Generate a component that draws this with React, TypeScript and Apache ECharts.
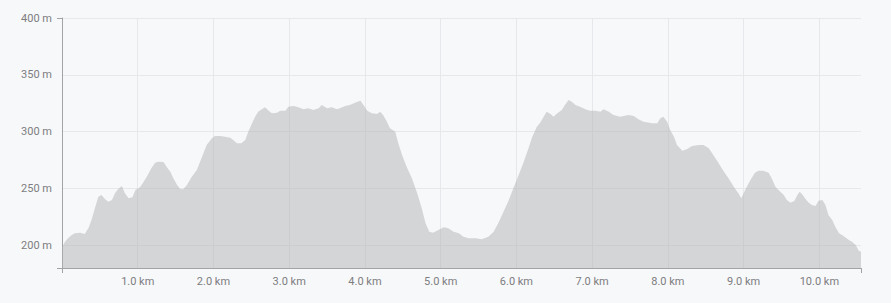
import React, { useEffect, useRef } from "react";
import * as echarts from "echarts";

// Distance along the route (km)
const distanceKm = [
  0.0, 0.04, 0.08, 0.13, 0.17, 0.24, 0.3, 0.35, 0.39, 0.44, 0.48, 0.52, 0.57, 0.61, 0.66, 0.7, 0.74, 0.79,
  0.83, 0.88, 0.93, 0.97, 1.03, 1.07, 1.12, 1.18, 1.23, 1.27, 1.34, 1.38, 1.43, 1.47, 1.52, 1.56, 1.6, 1.65,
  1.71, 1.78, 1.85, 1.91, 1.98, 2.02, 2.09, 2.15, 2.22, 2.26, 2.31, 2.37, 2.42, 2.46, 2.51, 2.55, 2.59, 2.64,
  2.68, 2.73, 2.77, 2.84, 2.88, 2.95, 2.99, 3.06, 3.12, 3.19, 3.25, 3.32, 3.39, 3.43, 3.5, 3.56, 3.63, 3.67,
  3.74, 3.8, 3.87, 3.94, 3.98, 4.03, 4.09, 4.16, 4.2, 4.24, 4.29, 4.33, 4.4, 4.44, 4.49, 4.55, 4.62, 4.69,
  4.75, 4.8, 4.85, 4.9, 4.97, 5.04, 5.1, 5.17, 5.24, 5.3, 5.37, 5.46, 5.54, 5.63, 5.7, 5.76, 5.83, 5.9,
  5.96, 6.03, 6.09, 6.16, 6.21, 6.27, 6.31, 6.36, 6.4, 6.45, 6.49, 6.54, 6.6, 6.64, 6.69, 6.73, 6.78, 6.84,
  6.91, 6.97, 7.04, 7.11, 7.15, 7.22, 7.28, 7.37, 7.48, 7.55, 7.61, 7.68, 7.79, 7.86, 7.9, 7.94, 7.99, 8.03,
  8.08, 8.12, 8.19, 8.25, 8.32, 8.41, 8.47, 8.54, 8.6, 8.67, 8.74, 8.8, 8.87, 8.93, 8.97, 9.02, 9.09, 9.15,
  9.2, 9.26, 9.33, 9.37, 9.42, 9.46, 9.53, 9.57, 9.62, 9.67, 9.71, 9.74, 9.77, 9.82, 9.86, 9.9, 9.95, 9.99,
  10.04, 10.08, 10.12, 10.17, 10.21, 10.26, 10.3, 10.34, 10.39, 10.43, 10.48, 10.52, 10.55,
];

// Elevation (m)
const elevationM = [
  198.2, 203.1, 206.1, 209.0, 210.5, 211.1, 209.9, 215.2, 222.2, 233.9, 242.7, 244.2, 240.5, 238.3, 239.8,
  245.7, 249.3, 252.2, 245.7, 241.3, 242.2, 248.6, 251.0, 255.1, 260.3, 267.7, 272.7, 273.5, 273.3, 269.1,
  264.7, 258.9, 253.0, 249.5, 249.3, 253.0, 259.8, 266.2, 277.9, 288.2, 294.1, 296.2, 296.2, 295.5, 294.7,
  292.6, 289.7, 289.7, 292.6, 299.9, 307.3, 313.1, 317.5, 319.7, 321.4, 318.4, 316.1, 316.7, 318.4, 318.4,
  321.9, 322.6, 321.4, 319.7, 320.5, 319.0, 320.5, 323.4, 320.5, 321.4, 319.7, 320.5, 322.6, 323.4, 325.5,
  327.2, 323.4, 318.4, 316.1, 315.5, 317.5, 314.6, 308.7, 302.9, 299.9, 289.7, 279.4, 269.1, 258.9, 245.7,
  232.5, 219.3, 211.9, 211.1, 213.4, 215.8, 214.9, 211.9, 210.5, 207.5, 206.1, 206.1, 205.3, 207.5, 211.9,
  219.3, 229.5, 239.8, 250.1, 261.8, 272.1, 285.3, 295.5, 304.3, 307.3, 313.1, 317.5, 315.5, 313.1, 316.1,
  319.0, 323.4, 327.8, 326.3, 323.4, 321.9, 319.7, 318.4, 318.4, 317.5, 319.7, 317.5, 314.6, 313.1, 314.6,
  313.8, 310.9, 308.7, 307.3, 307.3, 311.7, 313.1, 308.7, 301.4, 295.5, 288.2, 283.2, 284.5, 287.4, 288.2,
  288.2, 285.3, 279.4, 272.1, 264.7, 258.9, 251.5, 245.7, 241.3, 248.6, 257.4, 263.9, 265.6, 265.6, 263.9,
  258.9, 251.5, 248.6, 244.2, 239.8, 237.5, 239.0, 244.2, 247.1, 245.1, 240.5, 237.5, 235.4, 234.6, 239.2,
  239.8, 235.4, 226.6, 222.2, 216.3, 210.5, 209.0, 207.0, 204.6, 203.1, 200.2, 195.2, 194.3,
];

const xMin = 0;
const xMax = 10.55;
const yMin = 180;
const yMax = 400;

export default function App() {
  const ref = useRef<HTMLDivElement>(null);

  useEffect(() => {
    if (!ref.current) return;
    const chart = echarts.init(ref.current, null, { renderer: "svg" });
    const data = distanceKm.map((d, i) => [d, elevationM[i]]);
    const axisColor = "#a3a3a6";
    const labelStyle = {
      color: "#7d7d80",
      fontSize: 11,
      fontFamily: "Roboto, 'Liberation Sans', Arial, sans-serif",
    };
    chart.setOption({
      animation: false,
      backgroundColor: "#f7f8fa",
      grid: { left: 62, right: 30, top: 18, bottom: 35, containLabel: false },
      xAxis: [
        {
          type: "value",
          position: "bottom",
          min: xMin,
          max: xMax,
          interval: 1,
          axisLine: { show: true, lineStyle: { color: axisColor, width: 1 } },
          axisTick: { show: false },
          axisLabel: {
            ...labelStyle,
            margin: 8,
            showMinLabel: false,
            showMaxLabel: false,
            formatter: (v: number) => v.toFixed(1) + " km",
          },
          splitLine: {
            show: true,
            showMinLine: false,
            showMaxLine: false,
            lineStyle: { color: "#e7e8eb", width: 1 },
          },
        },
        {
          type: "value",
          position: "bottom",
          min: xMin,
          max: xMax,
          interval: xMax - xMin,
          axisLine: { show: false },
          axisTick: { show: true, length: 5, lineStyle: { color: axisColor } },
          axisLabel: { show: false },
          splitLine: { show: false },
        },
      ],
      yAxis: [
        {
          type: "value",
          position: "left",
          min: yMin,
          max: yMax,
          axisLine: { show: true, lineStyle: { color: axisColor, width: 1 } },
          axisTick: { show: false },
          axisLabel: {
            ...labelStyle,
            margin: 10,
            showMinLabel: false,
            formatter: (v: number) => v + " m",
          },
          splitLine: {
            show: true,
            showMinLine: false,
            lineStyle: { color: "#e7e8eb", width: 1 },
          },
        },
        {
          type: "value",
          position: "left",
          min: yMin,
          max: yMax,
          interval: yMax - yMin,
          axisLine: { show: false },
          axisTick: { show: true, length: 5, lineStyle: { color: axisColor } },
          axisLabel: { show: false },
          splitLine: { show: false },
        },
      ],
      series: [
        {
          type: "line",
          xAxisIndex: 0,
          yAxisIndex: 0,
          data,
          showSymbol: false,
          symbol: "none",
          smooth: false,
          lineStyle: { width: 0, opacity: 0 },
          areaStyle: { color: "rgba(177,177,180,0.5)", opacity: 1 },
          silent: true,
        },
      ],
    });
    return () => chart.dispose();
  }, []);

  return (
    <div
      ref={ref}
      style={{ position: "fixed", left: 0, top: 0, width: 891, height: 303 }}
    />
  );
}
